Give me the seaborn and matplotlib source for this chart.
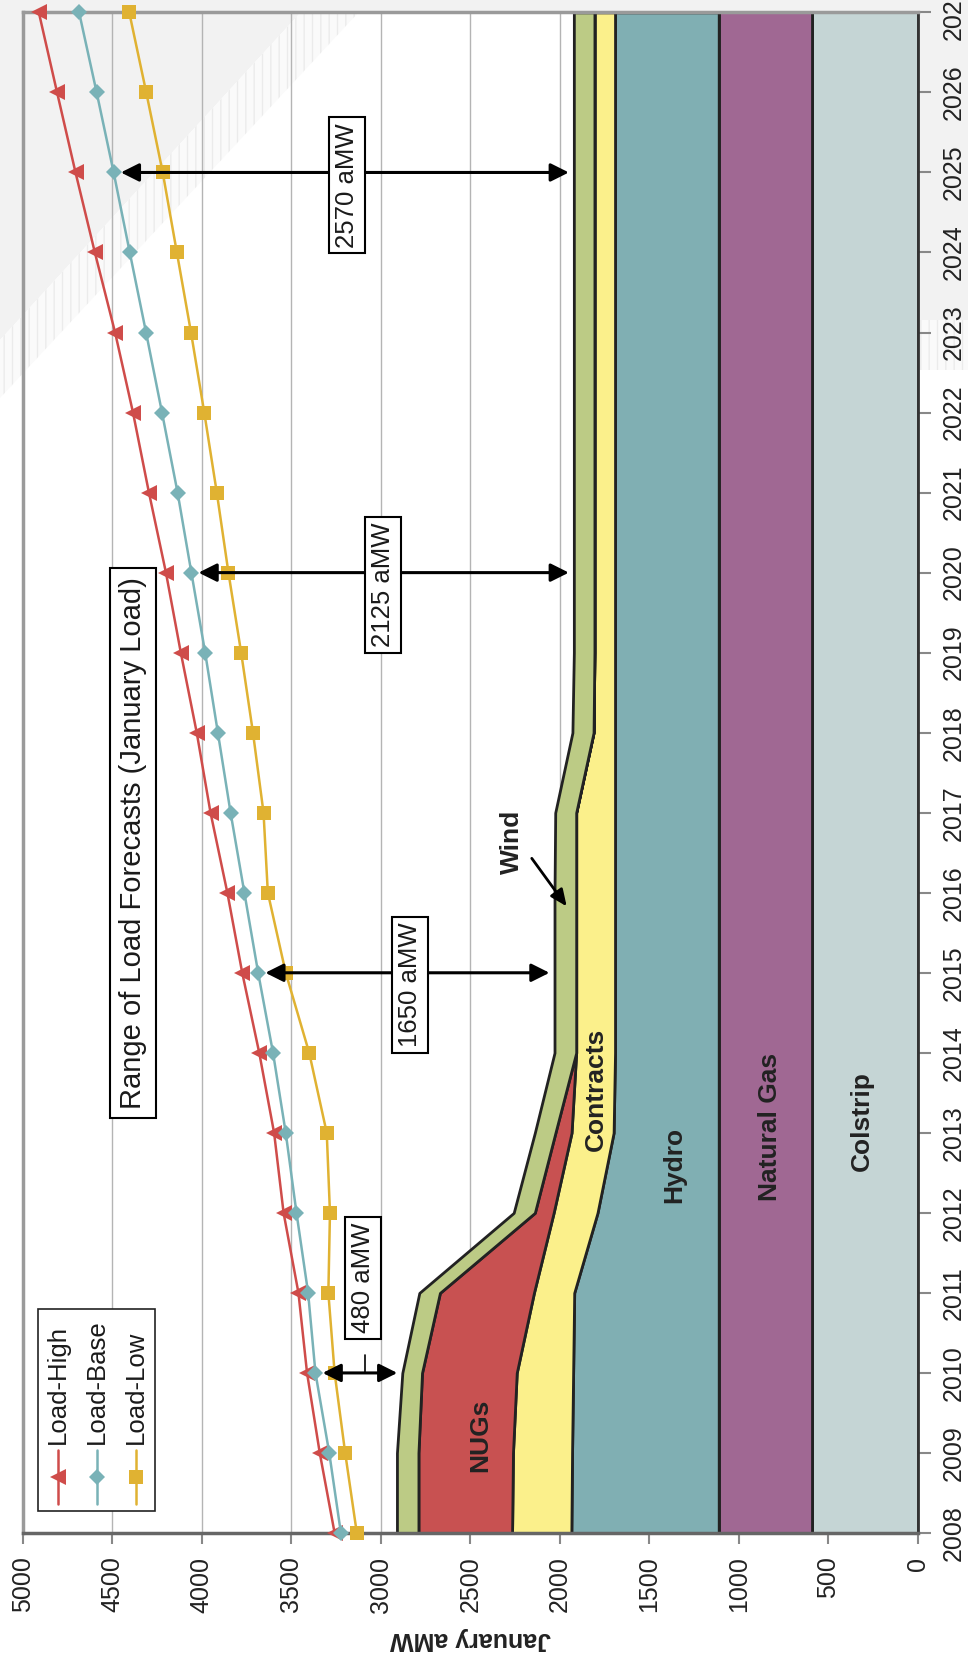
import numpy as np
import pandas as pd
import matplotlib
matplotlib.use("Agg")
import matplotlib.pyplot as plt
import seaborn as sns
from matplotlib.patches import Polygon, Rectangle
from matplotlib.lines import Line2D

# ---------------- data ----------------
years = [2008, 2009, 2010, 2011, 2012, 2013, 2014, 2015, 2016, 2017,
         2018, 2019, 2020, 2021, 2022, 2023, 2024, 2025, 2026, 2027]

load_high = [3258, 3341, 3412, 3460, 3543, 3596, 3679, 3774, 3857, 3951,
             4028, 4117, 4200, 4295, 4384, 4484, 4597, 4705, 4808, 4910]
load_base = [3223, 3288, 3365, 3406, 3471, 3531, 3602, 3685, 3762, 3839,
             3910, 3981, 4058, 4135, 4222, 4311, 4402, 4492, 4587, 4685]
load_low = [3134, 3199, 3258, 3293, 3284, 3302, 3400, 3531, 3631, 3655,
            3714, 3780, 3851, 3916, 3986, 4060, 4139, 4218, 4310, 4405]

colstrip = [592, 592, 592, 592, 592, 592, 592, 592, 592, 592,
            592, 592, 592, 592, 592, 592, 592, 592, 592, 592]
natural_gas = [521, 521, 521, 521, 521, 521, 521, 521, 521, 521,
               521, 521, 521, 521, 521, 521, 521, 521, 521, 521]
hydro = [823, 819, 813, 807, 677, 587, 579, 579, 579, 579,
         579, 579, 579, 579, 579, 579, 579, 579, 579, 579]
contracts = [331, 330, 315, 225, 245, 235, 217, 217, 217, 217,
             120, 115, 115, 115, 115, 115, 115, 115, 115, 115]
nugs = [523, 528, 529, 525, 105, 90, 0, 0, 0, 0,
        0, 0, 0, 0, 0, 0, 0, 0, 0, 0]
wind = [120, 120, 110, 115, 118, 115, 121, 121, 121, 117,
        118, 115, 115, 115, 115, 115, 115, 115, 115, 115]

resource_names = ["Colstrip", "Natural Gas", "Hydro", "Contracts", "NUGs", "Wind"]
value_ticks = [0, 500, 1000, 1500, 2000, 2500, 3000, 3500, 4000, 4500, 5000]
gap_years = [2010, 2015, 2020, 2025]
gap_labels = ["480 aMW", "1650 aMW", "2125 aMW", "2570 aMW"]
load_names = ["Load-High", "Load-Base", "Load-Low"]

# ---------------- style ----------------
sns.set_theme(style="white")
plt.rcParams["font.family"] = ["Liberation Sans", "DejaVu Sans"]

W_PX, H_PX = 968, 1660
fig = plt.figure(figsize=(W_PX / 100, H_PX / 100), dpi=100)
fig.patch.set_facecolor("white")


def fx(px):
    return px / W_PX


def fy(py):
    return 1 - py / H_PX


# light grey scan shading (background)
grey = "#f2f2f2"
fig.add_artist(Polygon([(fx(0), fy(0)), (fx(312), fy(0)), (fx(0), fy(340))],
                       closed=True, transform=fig.transFigure, fc=grey, ec="none", zorder=-5))
fig.add_artist(Polygon([(fx(312), fy(0)), (fx(370), fy(0)), (fx(0), fy(398)), (fx(0), fy(340))],
                       closed=True, transform=fig.transFigure, fc="#fafafa", ec="#ebebeb",
                       lw=0, hatch="||", zorder=-5))
fig.add_artist(Rectangle((fx(0), fy(13)), 1, 13 / H_PX, transform=fig.transFigure,
                         fc=grey, ec="none", zorder=-5))
fig.add_artist(Rectangle((fx(918), fy(320)), fx(50), 320 / H_PX, transform=fig.transFigure,
                         fc=grey, ec="none", zorder=-5))
fig.add_artist(Rectangle((fx(918), fy(370)), fx(50), 50 / H_PX, transform=fig.transFigure,
                         fc="#fafafa", ec="#ebebeb", lw=0, hatch="||", zorder=-5))

ax_left, ax_right, ax_top, ax_bottom = 22.7, 918, 12.4, 1533
ax = fig.add_axes([fx(ax_left), fy(ax_bottom), (ax_right - ax_left) / W_PX,
                   (ax_bottom - ax_top) / H_PX])
ax.set_facecolor("none")

# ---------------- stacked resources ----------------
res = pd.DataFrame({"Year": years, "Colstrip": colstrip, "Natural Gas": natural_gas,
                    "Hydro": hydro, "Contracts": contracts, "NUGs": nugs, "Wind": wind})
res_colors = {"Colstrip": "#c5d5d5", "Natural Gas": "#a06893", "Hydro": "#80afb3",
              "Contracts": "#fbf08b", "NUGs": "#c85151", "Wind": "#bccb85"}
lower = np.zeros(len(years))
for name in resource_names:
    upper = lower + res[name].to_numpy()
    ax.fill_betweenx(res["Year"], lower, upper, facecolor=res_colors[name],
                     edgecolor="#222222", linewidth=2.0, zorder=2)
    lower = upper
total = lower

# ---------------- load forecasts ----------------
loads = pd.DataFrame({"Year": years, "Load-High": load_high,
                      "Load-Base": load_base, "Load-Low": load_low})
load_style = {"Load-High": ("#cf4c4a", "<", 11),
              "Load-Base": ("#79b2b7", "D", 8),
              "Load-Low": ("#e0b232", "s", 10)}
for name in load_names:
    c, m, ms = load_style[name]
    sns.lineplot(data=loads, x=name, y="Year", orient="y", ax=ax, color=c,
                 marker=m, markersize=ms, markeredgecolor=c, markeredgewidth=0,
                 linewidth=1.8, clip_on=False, zorder=5, legend=False)

# ---------------- axes ----------------
ax.set_xlim(5000, 0)
ax.set_ylim(2008, 2027)
ax.set_xticks(value_ticks)
ax.set_xticklabels([str(v) for v in value_ticks], rotation=90, fontsize=18, color="#222222")
ax.yaxis.tick_right()
ax.set_yticks(years)
ax.set_yticklabels([str(y) for y in years], rotation=90, va="center", fontsize=18,
                   color="#222222")
ax.tick_params(axis="x", direction="out", length=8, width=1.5, color="#888888", pad=9,
               bottom=True)
ax.tick_params(axis="y", direction="out", length=9, width=1.5, color="#888888", pad=8,
               right=True, left=False)
ax.set_ylabel("")
ax.set_xlabel("January aMW", rotation=180, fontsize=18, fontweight="bold",
              color="#222222", labelpad=10)
ax.grid(axis="x", color="#b4b4b4", linewidth=1.0)
ax.grid(axis="y", visible=False)
ax.set_axisbelow(True)
for side, col, lw in [("top", "#9a9a9a", 2.5), ("left", "#9a9a9a", 2.5),
                      ("right", "#333333", 2.0), ("bottom", "#666666", 2.5)]:
    ax.spines[side].set_visible(True)
    ax.spines[side].set_color(col)
    ax.spines[side].set_linewidth(lw)
    ax.spines[side].set_zorder(3)

# ---------------- gap arrows and labels ----------------
label_pos = {2010: (3100, 2011.19), 2015: (2837, 2014.85),
             2020: (2988, 2019.85), 2025: (3189, 2024.84)}
for yr, lab in zip(gap_years, gap_labels):
    i = years.index(yr)
    ax.annotate("", xy=(load_base[i] - 40, yr), xytext=(total[i] + 28, yr),
                arrowprops=dict(arrowstyle="<|-|>,head_length=0.5,head_width=0.25",
                                color="black", lw=2.2, mutation_scale=22,
                                shrinkA=0, shrinkB=0), zorder=6)
    lx, ly = label_pos[yr]
    ax.text(lx, ly, lab, rotation=90, ha="center", va="center", fontsize=18.5,
            color="#1a1a1a", zorder=7,
            bbox=dict(boxstyle="square,pad=0.22", fc="white", ec="black", lw=1.5))
# small connector under the 480 box
ax.plot([3088, 3088], [2010.0, 2010.22], color="black", lw=1.2, zorder=6)

ax.text(4384, 2016.62, "Range of Load Forecasts (January Load)", rotation=90,
        ha="center", va="center", fontsize=21, color="#1a1a1a", zorder=7,
        bbox=dict(boxstyle="square,pad=0.3", fc="white", ec="black", lw=1.5))

# ---------------- area labels ----------------
area_labels = [("NUGs", 2446, 2009.22), ("Contracts", 1798, 2013.54),
               ("Hydro", 1363, 2012.6), ("Natural Gas", 827, 2013.07),
               ("Colstrip", 313, 2013.15)]
for txt, vx, vy in area_labels:
    ax.text(vx, vy, txt, rotation=90, ha="center", va="center", fontsize=19,
            fontweight="bold", color="#222222", zorder=6)
ax.text(2268, 2016.63, "Wind", rotation=90, ha="center", va="center", fontsize=19,
        fontweight="bold", color="#222222", zorder=6)
ax.annotate("", xy=(1962, 2015.83), xytext=(2157, 2016.43),
            arrowprops=dict(arrowstyle="-|>,head_length=0.5,head_width=0.22",
                            color="black", lw=2.0, mutation_scale=20,
                            shrinkA=0, shrinkB=0), zorder=6)

# ---------------- legend (rotated) ----------------
fig.add_artist(Rectangle((fx(38), fy(1511)), (155 - 38) / W_PX, (1511 - 1309) / H_PX,
                         transform=fig.transFigure, fc="white", ec="#222222", lw=1.2,
                         zorder=10))
for xpx, name in zip([58, 97, 136], load_names):
    c, m, ms = load_style[name]
    fig.add_artist(Line2D([fx(xpx), fx(xpx)], [fy(1450), fy(1504)], color=c, lw=1.8,
                          transform=fig.transFigure, zorder=11))
    fig.add_artist(Line2D([fx(xpx)], [fy(1477)], color=c, marker=m, markersize=ms,
                          markeredgewidth=0, transform=fig.transFigure, zorder=11))
    fig.text(fx(xpx), fy(1444), name, rotation=90, ha="center", va="bottom",
             fontsize=18.5, color="#1a1a1a", zorder=11)

fig.savefig("out.png", dpi=100, facecolor="white")
